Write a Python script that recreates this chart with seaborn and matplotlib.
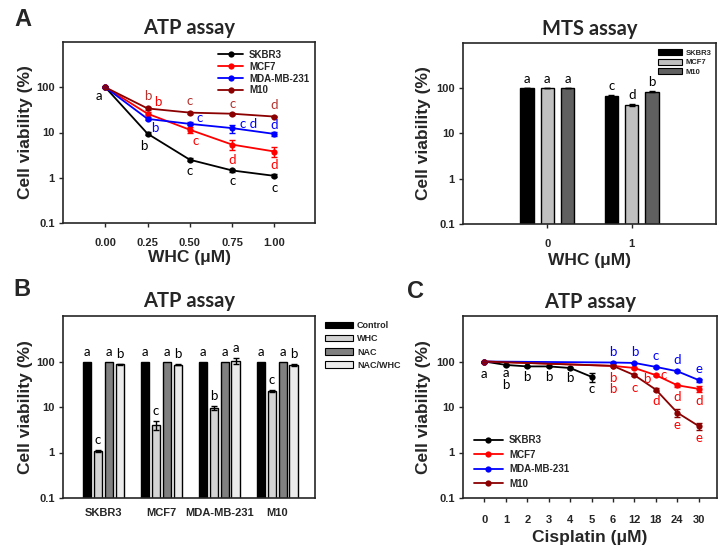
import pandas as pd
import seaborn as sns
import matplotlib
matplotlib.use("Agg")
from matplotlib import pyplot as plt
from matplotlib.patches import Patch

# ---- panel A (left): ATP assay, WHC dose response ----
whc_doses = [0.00, 0.25, 0.50, 0.75, 1.00]
whc_ticklabels = ["0.00", "0.25", "0.50", "0.75", "1.00"]
cell_lines = ["SKBR3", "MCF7", "MDA-MB-231", "M10"]
atp_skbr3 = [100, 9.4, 2.5, 1.45, 1.1]
atp_mcf7 = [100, 26, 11.5, 5.4, 3.8]
atp_mda = [100, 20, 15.5, 12.5, 9.3]
atp_m10 = [100, 34, 27.5, 26, 22.5]
atp_skbr3_sd = [0, 0.8, 0.2, 0.1, 0.08]
atp_mcf7_sd = [0, 2, 1.8, 1.3, 0.9]
atp_mda_sd = [0, 1.5, 1.2, 2.5, 1.0]
atp_m10_sd = [0, 2, 1.5, 1.5, 1.0]
atp_skbr3_sig = ["a", "b", "c", "c", "c"]
atp_mcf7_sig = ["", "b", "c", "d", "d"]
atp_mda_sig = ["", "b", "c", "c d", "d"]
atp_m10_sig = ["", "b", "c", "c", "d"]

# ---- panel A (right): MTS assay ----
mts_doses = ["0", "1"]
mts_lines = ["SKBR3", "MCF7", "M10"]
mts_skbr3 = [100, 66]
mts_mcf7 = [100, 43]
mts_m10 = [100, 84]
mts_skbr3_sd = [0, 4]
mts_mcf7_sd = [0, 2]
mts_m10_sd = [0, 3]
mts_skbr3_sig = ["a", "c"]
mts_mcf7_sig = ["a", "d"]
mts_m10_sig = ["a", "b"]

# ---- panel B: ATP assay with NAC ----
b_lines = ["SKBR3", "MCF7", "MDA-MB-231", "M10"]
b_treatments = ["Control", "WHC", "NAC", "NAC/WHC"]
b_control = [100, 100, 100, 100]
b_whc = [1.1, 4.0, 9.5, 22.5]
b_nac = [100, 100, 100, 100]
b_nac_whc = [86, 85, 105, 84]
b_control_sd = [0, 0, 0, 0]
b_whc_sd = [0.05, 0.9, 1.0, 0.6]
b_nac_sd = [0, 0, 0, 0]
b_nac_whc_sd = [2, 2, 15, 3]
b_control_sig = ["a", "a", "a", "a"]
b_whc_sig = ["c", "c", "b", "c"]
b_nac_sig = ["a", "a", "a", "a"]
b_nac_whc_sig = ["b", "b", "a", "b"]

# ---- panel C: ATP assay, cisplatin ----
cis_doses = ["0", "1", "2", "3", "4", "5", "6", "12", "18", "24", "30"]
c_skbr3_doses = ["0", "1", "2", "3", "4", "5"]
c_other_doses = ["0", "6", "12", "18", "24", "30"]
c_skbr3 = [100, 84, 78, 78, 72, 46]
c_mcf7 = [100, 80, 72, 50, 30, 25]
c_mda = [100, 95, 93, 76, 61, 39]
c_m10 = [100, 80, 50, 24, 7.5, 3.8]
c_skbr3_sd = [0, 3, 3, 3, 3, 10]
c_mcf7_sd = [0, 2, 2, 3, 2, 4]
c_mda_sd = [0, 2, 2, 3, 3, 3]
c_m10_sd = [0, 2, 2, 2, 1.5, 0.6]

colors = {"SKBR3": "black", "MCF7": "#ff0000", "MDA-MB-231": "#0000ff", "M10": "#8b0000"}
sig_colors = {"SKBR3": "black", "MCF7": "#ff0000", "MDA-MB-231": "#0000ff", "M10": "#b5332e"}

sns.set_style("ticks")
plt.rcParams["font.family"] = ["Liberation Sans", "DejaVu Sans"]
plt.rcParams["font.weight"] = "bold"
plt.rcParams["axes.linewidth"] = 1.2
LETTER_FONT = ["Lato", "DejaVu Sans"]

fig = plt.figure(figsize=(7.26, 5.53), dpi=100)
W, H = 726, 553


def add_axes(left, top, right, bottom):
    return fig.add_axes([left / W, 1 - bottom / H, (right - left) / W, (bottom - top) / H])


def log_axis(ax):
    ax.set_yscale("log")
    ax.set_ylim(0.1, 1000)
    ax.set_yticks([0.1, 1, 10, 100], ["0.1", "1", "10", "100"])
    ax.minorticks_off()
    ax.tick_params(axis="y", direction="out", length=3, width=1, pad=3, labelsize=8)
    for s in ax.spines.values():
        s.set_visible(True)
        s.set_linewidth(1.2)
    ax.set_ylabel("Cell viability (%)", fontsize=12.5, fontweight="bold")


def title(ax, txt, y):
    ax.text(0.5, y, txt, transform=ax.transAxes, ha="center", va="center",
            fontsize=14.5, fontweight="bold", family=LETTER_FONT)


def sig(ax, x, y, txt, dx, dy, color):
    if txt:
        ax.annotate(txt, (x, y), xytext=(dx, dy), textcoords="offset pixels",
                    ha="center", va="center", fontsize=9.5, color=color,
                    family=LETTER_FONT, fontweight="normal")


def draw_lines(ax, frame, order):
    sns.lineplot(data=frame, x="x", y="y", hue="line", hue_order=order, palette=colors,
                 marker="o", markersize=4.5, markeredgewidth=0, linewidth=1.3,
                 estimator=None, sort=False, legend=False, ax=ax)
    return list(ax.lines[:len(order)])


def frame_from(series):
    rows = []
    for name, (xs, ys) in series.items():
        for xv, yv in zip(xs, ys):
            rows.append({"x": xv, "y": yv, "line": name})
    return pd.DataFrame(rows)


# ================= panel A left =================
ax = add_axes(63, 42, 315, 223)
a_vals = {"SKBR3": atp_skbr3, "MCF7": atp_mcf7, "MDA-MB-231": atp_mda, "M10": atp_m10}
a_sd = {"SKBR3": atp_skbr3_sd, "MCF7": atp_mcf7_sd, "MDA-MB-231": atp_mda_sd, "M10": atp_m10_sd}
a_sig = {"SKBR3": atp_skbr3_sig, "MCF7": atp_mcf7_sig, "MDA-MB-231": atp_mda_sig, "M10": atp_m10_sig}
a_frame = frame_from({k: (whc_doses, v) for k, v in a_vals.items()})
handles = draw_lines(ax, a_frame, cell_lines)
for name in cell_lines:
    ax.errorbar(whc_doses, a_vals[name], yerr=a_sd[name], fmt="none", ecolor=colors[name],
                elinewidth=1, capsize=2.5, capthick=1)
log_axis(ax)
ax.set_xlim(-0.25, 1.24)
ax.set_xticks(whc_doses, whc_ticklabels)
ax.tick_params(axis="x", direction="out", length=3, width=1, pad=8, labelsize=8)
ax.set_xlabel("WHC (\u03bcM)", fontsize=12.5, fontweight="bold")
ax.xaxis.set_label_coords(0.5, -0.15)
ax.yaxis.set_label_coords(-0.12, 0.5)
title(ax, "ATP assay", 1.075)
a_off = {
    "SKBR3": [(-6, -9), (-4, -12), (0, -11), (0, -11), (0, -12)],
    "MCF7": [(0, 0), (10, 12), (6, -11), (0, -15), (0, -13)],
    "MDA-MB-231": [(0, 0), (7, -9), (10, 6), (16, 4), (0, 9)],
    "M10": [(0, 0), (0, 12), (0, 12), (0, 10), (0, 12)],
}
for name in cell_lines:
    for xv, yv, t, (dx, dy) in zip(whc_doses, a_vals[name], a_sig[name], a_off[name]):
        sig(ax, xv, yv, t, dx, dy, sig_colors[name])
ax.legend(handles, cell_lines, loc="upper right", bbox_to_anchor=(1.0, 0.99), frameon=False,
          fontsize=7, handlelength=2.6, labelspacing=0.2, borderaxespad=0.2, handletextpad=0.6)

# ================= panel A right (MTS) =================
ax = add_axes(463, 43, 716, 224)
mts_vals = {"SKBR3": mts_skbr3, "MCF7": mts_mcf7, "M10": mts_m10}
mts_sd = {"SKBR3": mts_skbr3_sd, "MCF7": mts_mcf7_sd, "M10": mts_m10_sd}
mts_sig = {"SKBR3": mts_skbr3_sig, "MCF7": mts_mcf7_sig, "M10": mts_m10_sig}
mts_colors = {"SKBR3": "black", "MCF7": "#c0c0c0", "M10": "#606060"}
mts_frame = frame_from({k: (mts_doses, v) for k, v in mts_vals.items()})
sns.barplot(data=mts_frame, x="x", y="y", hue="line", hue_order=mts_lines, order=mts_doses,
            palette=mts_colors, width=0.72, gap=0.33, edgecolor="black", linewidth=1,
            errorbar=None, legend=False, ax=ax)
log_axis(ax)
for name, cont in zip(mts_lines, ax.containers):
    for i, bar in enumerate(cont):
        xc = bar.get_x() + bar.get_width() / 2
        ax.errorbar(xc, bar.get_height(), yerr=mts_sd[name][i], fmt="none", ecolor="black",
                    elinewidth=1, capsize=2, capthick=1)
        sig(ax, xc, bar.get_height() + mts_sd[name][i], mts_sig[name][i], 0, 9, "black")
ax.set_xlim(-1, 2)
ax.tick_params(axis="x", direction="out", length=3, width=1, pad=8, labelsize=8)
ax.set_xlabel("WHC (\u03bcM)", fontsize=12.5, fontweight="bold")
ax.xaxis.set_label_coords(0.5, -0.16)
ax.yaxis.set_label_coords(-0.126, 0.5)
title(ax, "MTS assay", 1.08)
ax.legend([Patch(facecolor=mts_colors[n], edgecolor="black", linewidth=0.8) for n in mts_lines],
          mts_lines, loc="upper right", bbox_to_anchor=(1.0, 0.99), frameon=False, fontsize=5.5,
          handlelength=3.2, handleheight=0.8, labelspacing=0.25, borderaxespad=0.2,
          handletextpad=0.4)

# ================= panel B =================
ax = add_axes(63, 316, 315, 498)
b_vals = {"Control": b_control, "WHC": b_whc, "NAC": b_nac, "NAC/WHC": b_nac_whc}
b_sd = {"Control": b_control_sd, "WHC": b_whc_sd, "NAC": b_nac_sd, "NAC/WHC": b_nac_whc_sd}
b_sig = {"Control": b_control_sig, "WHC": b_whc_sig, "NAC": b_nac_sig, "NAC/WHC": b_nac_whc_sig}
b_colors = {"Control": "black", "WHC": "#d4d4d4", "NAC": "#808080", "NAC/WHC": "#ebebeb"}
b_frame = pd.DataFrame([{"x": g, "y": b_vals[t][i], "line": t}
                        for t in b_treatments for i, g in enumerate(b_lines)])
sns.barplot(data=b_frame, x="x", y="y", hue="line", hue_order=b_treatments, order=b_lines,
            palette=b_colors, width=0.75, gap=0.22, edgecolor="black", linewidth=1,
            errorbar=None, legend=False, ax=ax)
log_axis(ax)
for name, cont in zip(b_treatments, ax.containers):
    for i, bar in enumerate(cont):
        xc = bar.get_x() + bar.get_width() / 2
        if b_sd[name][i] > 0:
            ax.errorbar(xc, bar.get_height(), yerr=b_sd[name][i], fmt="none", ecolor="black",
                        elinewidth=1, capsize=2, capthick=1)
        sig(ax, xc, bar.get_height() + b_sd[name][i], b_sig[name][i], 0, 10, "black")
ax.set_xlim(-0.7, 3.65)
ax.set_xlabel("")
ax.tick_params(axis="x", length=0, pad=7, labelsize=8)
ax.yaxis.set_label_coords(-0.12, 0.5)
title(ax, "ATP assay", 1.08)
ax.legend([Patch(facecolor=b_colors[n], edgecolor="black", linewidth=0.8) for n in b_treatments],
          b_treatments, loc="upper left", bbox_to_anchor=(1.02, 1.0), frameon=False, fontsize=6.5,
          handlelength=3.0, handleheight=0.7, labelspacing=0.45, borderaxespad=0.2,
          handletextpad=0.5)

# ================= panel C =================
ax = add_axes(463, 316, 717, 498)
c_vals = {"SKBR3": (c_skbr3_doses, c_skbr3), "MCF7": (c_other_doses, c_mcf7),
          "MDA-MB-231": (c_other_doses, c_mda), "M10": (c_other_doses, c_m10)}
c_sd = {"SKBR3": c_skbr3_sd, "MCF7": c_mcf7_sd, "MDA-MB-231": c_mda_sd, "M10": c_m10_sd}
c_pos = {k: [cis_doses.index(d) for d in xs] for k, (xs, ys) in c_vals.items()}
c_frame = frame_from({k: (c_pos[k], c_vals[k][1]) for k in cell_lines})
handles = draw_lines(ax, c_frame, cell_lines)
for name in cell_lines:
    ax.errorbar(c_pos[name], c_vals[name][1], yerr=c_sd[name], fmt="none", ecolor=colors[name],
                elinewidth=1, capsize=2.5, capthick=1)
log_axis(ax)
ax.set_xlim(-1.0, 10.85)
ax.set_xticks(range(len(cis_doses)), cis_doses)
ax.tick_params(axis="x", direction="out", length=3, width=1, pad=9, labelsize=8)
ax.set_xlabel("Cisplatin (\u03bcM)", fontsize=12.5, fontweight="bold")
ax.xaxis.set_label_coords(0.5, -0.175)
ax.yaxis.set_label_coords(-0.126, 0.5)
title(ax, "ATP assay", 1.075)
# significance letters: (cell line, dose, letter, dx, dy)
c_letters = [
    ("SKBR3", "0", "a", 0, -12), ("SKBR3", "1", "a", 0, -8), ("SKBR3", "1", "b", 0, -20),
    ("SKBR3", "2", "b", 0, -11), ("SKBR3", "3", "b", 0, -11), ("SKBR3", "4", "b", 0, -10),
    ("SKBR3", "5", "c", 0, -12),
    ("MDA-MB-231", "6", "b", 0, 11), ("MDA-MB-231", "12", "b", 0, 11),
    ("MDA-MB-231", "18", "c", 0, 11), ("MDA-MB-231", "24", "d", 0, 11),
    ("MDA-MB-231", "30", "e", 0, 11),
    ("MCF7", "6", "b", 0, -12), ("M10", "6", "b", 0, -23), ("M10", "12", "c", 0, -13),
    ("MCF7", "18", "b", -9, -4), ("MCF7", "18", "c", 8, 0), ("M10", "18", "d", 0, -11),
    ("MCF7", "24", "d", 0, -12), ("M10", "24", "e", 0, -12),
    ("MCF7", "30", "d", 0, -12), ("M10", "30", "e", 0, -12),
]
for name, dose, t, dx, dy in c_letters:
    xs, ys = c_vals[name]
    col = "black" if name == "SKBR3" else ("#0000ff" if name == "MDA-MB-231" else "#ff0000")
    sig(ax, cis_doses.index(dose), ys[xs.index(dose)], t, dx, dy, col)
ax.legend(handles, cell_lines, loc="lower left", bbox_to_anchor=(0.02, 0.02), frameon=False,
          fontsize=7, handlelength=3.0, labelspacing=0.45, borderaxespad=0.2, handletextpad=0.6)

# panel letters
for letter, (px, py) in zip(["A", "B", "C"], [(23, 20), (22, 290), (416, 292)]):
    fig.text(px / W, 1 - py / H, letter, ha="center", va="center", fontsize=17, fontweight="bold")

fig.savefig("out.png", dpi=100)
